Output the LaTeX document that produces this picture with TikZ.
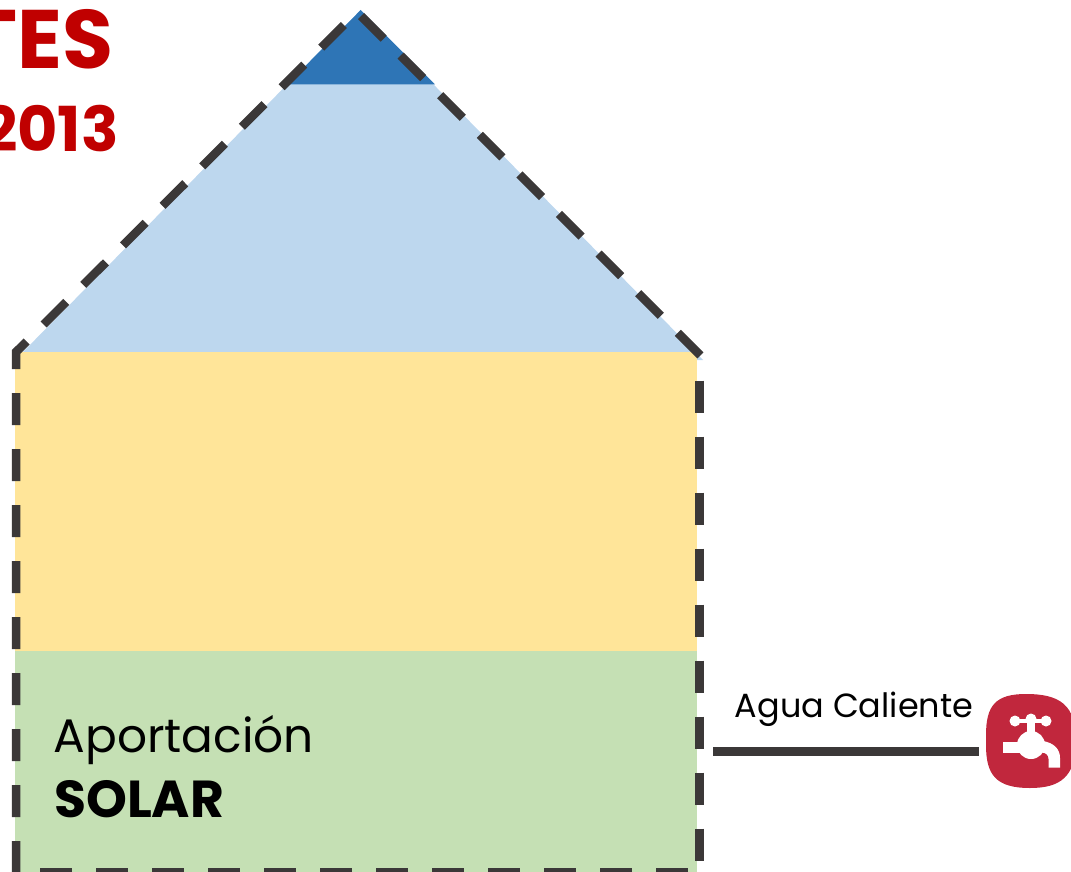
\documentclass[tikz,border=0pt]{standalone}
\usepackage{fontspec}
\setmainfont{Poppins}
\definecolor{roofLight}{HTML}{BDD7EE}
\definecolor{roofDark}{HTML}{2E75B6}
\definecolor{bandYellow}{HTML}{FFE599}
\definecolor{bandGreen}{HTML}{C5E0B4}
\definecolor{lineDark}{HTML}{3B3838}
\definecolor{titleRed}{HTML}{C00000}
\definecolor{tapRed}{HTML}{C1273D}
\tikzset{
  outline/.style={draw=lineDark,line width=8.5pt,dash pattern=on 32pt off 24pt,miter limit=10},
  titletext/.style={text=titleRed,inner sep=0pt},
  bodytext/.style={text=black,inner sep=0pt}
}
\begin{document}
\begin{tikzpicture}[x=1pt,y=-1pt]
\useasboundingbox (0,0) rectangle (1071,872);
\clip (0,0) rectangle (1071,872);
% fills
\fill[roofLight] (360.7,10) -- (703,360) -- (15,360) -- cycle;
\fill[roofDark] (360.7,10) -- (435,84.5) -- (287,84.5) -- cycle;
\fill[bandYellow] (15,352) rectangle (697,651.5);
\fill[bandGreen] (15,651) rectangle (697,872);
% dashed outline
\coordinate (apex) at (357,12);
\coordinate (apexR) at (361,16);
\coordinate (cornerL) at (16,352);
\coordinate (cornerR) at (702,357);
\coordinate (footL) at (16,873);
\coordinate (rightTop) at (699.5,380.7);
\coordinate (rightFoot) at (699.5,900);
\coordinate (baseL) at (40,872.5);
\coordinate (baseR) at (700,872.5);
\draw[outline] (footL) -- (cornerL) -- (apex);
\draw[outline] (apexR) -- (cornerR);
\draw[outline] (rightTop) -- (rightFoot);
\draw[outline] (baseL) -- (baseR);
% texts
\node[titletext,anchor=base east,font=\bfseries\fontsize{83}{83}\selectfont] (tes) at (114,69) {TES};
\node[titletext,anchor=base east,font=\bfseries\fontsize{62}{62}\selectfont] (year) at (119,152) {2013};
\node[bodytext,anchor=base west,font=\fontsize{47}{47}\selectfont] (aport) at (53.5,752) {Aportación};
\node[bodytext,anchor=base west,font=\bfseries\fontsize{52}{52}\selectfont] (solar) at (54,817) {SOLAR};
\node[bodytext,anchor=base,font=\fontsize{33.5}{33.5}\selectfont] (agua) at (854,717.5) {Agua Caliente};
% connector
\coordinate (lineA) at (713,751.5);
\coordinate (lineB) at (979,751.5);
\draw[draw=lineDark,line width=8.5pt] (lineA) -- (lineB);
% tap icon
\fill[tapRed] (986,735) .. controls (986,705) and (996,694) .. (1026,694)
  .. controls (1060,694) and (1076,705) .. (1076,741)
  .. controls (1076,777) and (1060,788) .. (1030,788)
  .. controls (996,788) and (986,775) .. (986,745) -- cycle;
\begin{scope}[white]
\fill (1015,721) circle (5.5);
\fill (1031,719) circle (5.5);
\fill (1046,721) circle (5.5);
\fill (1015,719) rectangle (1046,723);
\fill (1027,720) rectangle (1035,740);
\fill (1031,745) circle (14);
\fill (1003,741.5) rectangle (1031,752.5);
\fill (1031,741) -- (1043,741) .. controls (1054,743) and (1060,749) .. (1060,758)
  -- (1060,767.5) -- (1048.5,767.5) -- (1048.5,759) .. controls (1048.5,755) and (1046,752.5) .. (1041,752.5) -- (1031,752.5) -- cycle;
\end{scope}
\end{tikzpicture}
\end{document}
